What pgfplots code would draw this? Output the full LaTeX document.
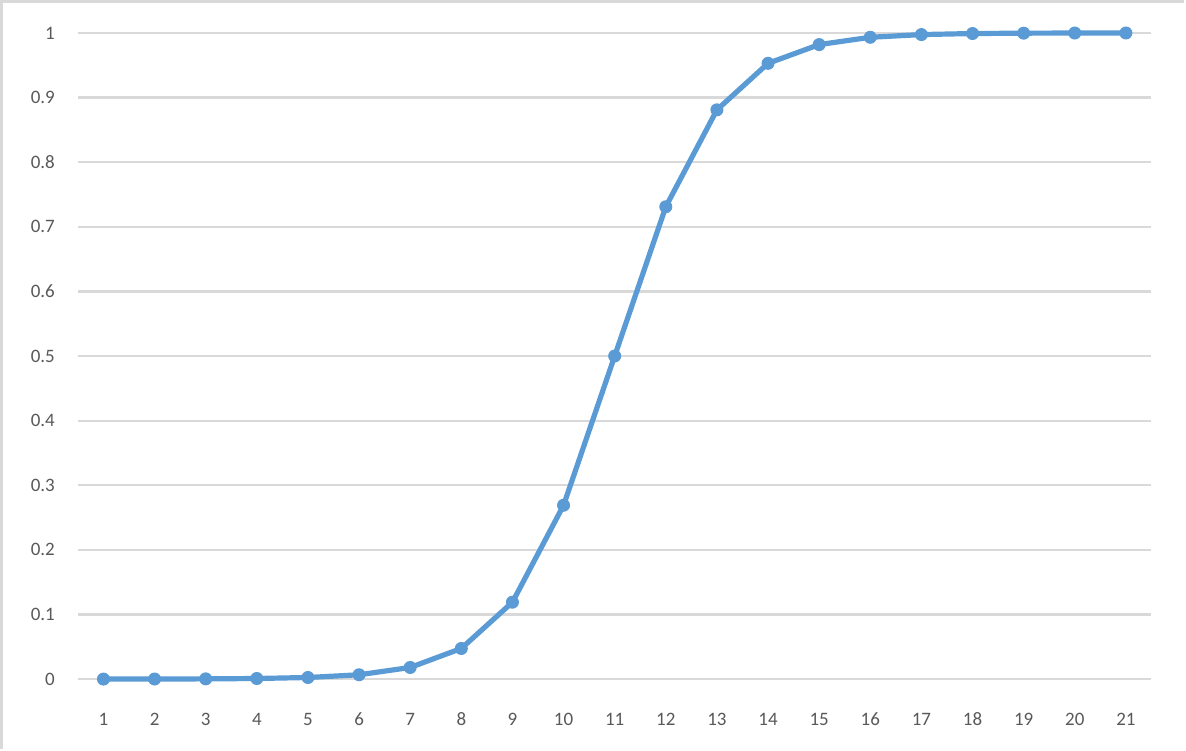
\documentclass[border=0pt]{standalone}
\usepackage{pgfplots}
\pgfplotsset{compat=1.18}
\usepackage{fontspec}
\setmainfont{Carlito}
\definecolor{lineblue}{HTML}{5B9BD5}
\definecolor{gridgray}{HTML}{D9D9D9}
\definecolor{labelgray}{HTML}{595959}
\begin{document}
\begin{tikzpicture}
% canvas: 1186x750 px at 0.5pt per px
\fill[white] (0,0) rectangle (593pt,375pt);
\draw[gridgray, line width=1.6pt] (0.8pt,0) -- (0.8pt,374.2pt) -- (593pt,374.2pt);
\begin{axis}[
    at={(39pt,35pt)},
    anchor=south west,
    scale only axis,
    width=537.5pt,
    height=323.5pt,
    xmin=0.5, xmax=21.5,
    ymin=0, ymax=1,
    xtick={1,...,21},
    ytick={0,0.1,...,1},
    yticklabel style={/pgf/number format/fixed, /pgf/number format/precision=1},
    /pgf/number format/assume math mode=true,
    axis line style={draw=none},
    major tick length=0pt,
    ymajorgrids,
    grid style={gridgray, line width=1.1pt},
    ticklabel style={font=\fontsize{9.5}{11}\selectfont, text=labelgray},
    xticklabel style={yshift=-12pt, text height=1.6ex, text depth=0.2ex},
    yticklabel style={xshift=-8pt},
    clip=false,
]
\addplot[color=lineblue, line width=2.6pt, mark=*, mark size=3pt,
    mark options={fill=lineblue, draw=lineblue, line width=0.5pt}]
coordinates {
(1,0.0000454)
(2,0.000123)
(3,0.000335)
(4,0.000911)
(5,0.00247)
(6,0.00669)
(7,0.0180)
(8,0.0474)
(9,0.119)
(10,0.269)
(11,0.5)
(12,0.731)
(13,0.881)
(14,0.953)
(15,0.982)
(16,0.9933)
(17,0.9975)
(18,0.9991)
(19,0.99966)
(20,0.99988)
(21,0.99995)
};
\end{axis}
\end{tikzpicture}
\end{document}
